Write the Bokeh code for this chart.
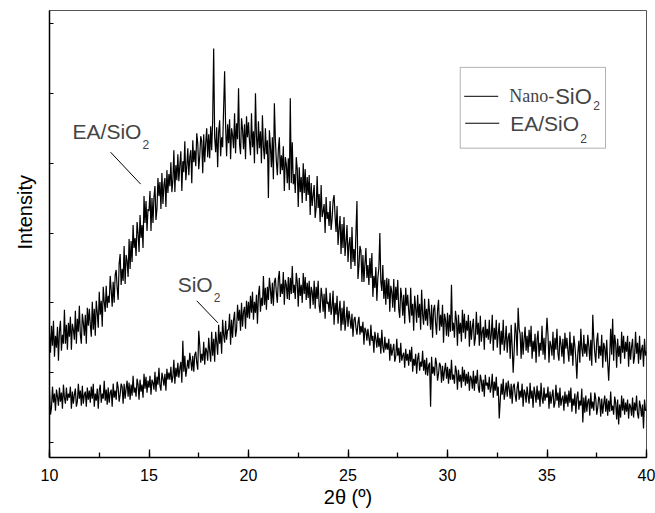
from bokeh.plotting import figure
from bokeh.models import (Label, Arrow, BoxAnnotation, SingleIntervalTicker, FixedTicker,
                          Range1d, Title, CustomJSTickFormatter)
from bokeh.embed import file_html
from bokeh.resources import INLINE

# 2-theta grid (degrees), 10.00 .. 40.00 step 0.05
two_theta = [round(10 + 0.05 * i, 2) for i in range(601)]

# EA/SiO2 (upper trace), arbitrary intensity units, one row per degree
ea_sio2 = [
    110, 90, 117, 97, 122, 86, 107, 95, 116, 82, 112, 122, 92, 108, 99, 133, 99, 118, 93, 120,
    106, 126, 93, 119, 113, 103, 132, 99, 124, 111, 137, 108, 99, 129, 120, 107, 128, 99, 135, 117,
    134, 118, 106, 141, 113, 134, 107, 142, 130, 115, 151, 128, 142, 116, 156, 141, 131, 157, 135, 147,
    140, 167, 153, 136, 161, 140, 168, 173, 155, 143, 179, 189, 158, 174, 162, 197, 159, 188, 182, 166,
    204, 174, 202, 181, 218, 195, 205, 187, 221, 210, 191, 228, 205, 218, 195, 247, 220, 242, 212, 234,
    232, 252, 212, 245, 220, 246, 257, 223, 234, 265, 247, 261, 234, 270, 239, 258, 265, 236, 273, 250,
    269, 257, 281, 251, 263, 293, 251, 278, 263, 289, 262, 278, 292, 252, 282, 271, 302, 263, 277, 295,
    268, 286, 293, 260, 303, 281, 293, 277, 310, 300, 274, 287, 307, 302, 270, 309, 281, 300, 315, 286,
    309, 285, 317, 293, 323, 395, 306, 291, 316, 276, 311, 323, 287, 306, 296, 335, 372, 317, 287, 319,
    300, 324, 284, 315, 308, 295, 330, 290, 320, 304, 355, 299, 289, 325, 314, 294, 319, 284, 327, 306,
    321, 302, 288, 330, 296, 312, 280, 350, 307, 289, 322, 295, 312, 280, 328, 296, 284, 315, 289, 303,
    245, 313, 297, 276, 306, 264, 340, 304, 282, 268, 294, 306, 269, 288, 273, 297, 252, 286, 279, 260,
    285, 253, 345, 260, 301, 259, 269, 250, 286, 274, 236, 276, 251, 266, 240, 280, 250, 274, 242, 266,
    248, 268, 228, 260, 237, 248, 258, 225, 235, 267, 235, 249, 221, 258, 226, 232, 239, 210, 246, 224,
    231, 217, 242, 213, 224, 242, 248, 227, 211, 237, 198, 214, 227, 189, 219, 195, 226, 187, 201, 218,
    181, 199, 206, 174, 216, 181, 194, 177, 211, 242, 164, 177, 197, 192, 161, 188, 161, 179, 195, 165,
    178, 158, 185, 165, 190, 146, 167, 155, 176, 142, 165, 175, 210, 161, 152, 178, 144, 163, 138, 165,
    144, 164, 131, 157, 151, 135, 164, 131, 156, 143, 163, 134, 125, 155, 146, 127, 148, 119, 155, 137,
    148, 132, 120, 155, 127, 139, 112, 147, 135, 120, 148, 125, 139, 113, 153, 128, 118, 144, 122, 134,
    117, 144, 130, 113, 138, 105, 133, 138, 120, 108, 133, 143, 112, 128, 116, 138, 100, 129, 123, 107,
    130, 106, 128, 111, 158, 112, 120, 105, 132, 123, 97, 128, 109, 120, 101, 133, 110, 129, 104, 122,
    112, 128, 96, 122, 103, 116, 124, 97, 105, 131, 108, 120, 97, 127, 101, 111, 116, 93, 123, 105,
    114, 103, 123, 99, 108, 128, 92, 115, 103, 123, 95, 109, 120, 88, 112, 98, 123, 92, 102, 117,
    90, 105, 110, 84, 118, 96, 70, 92, 120, 111, 87, 135, 114, 109, 84, 111, 88, 104, 116, 92,
    107, 90, 113, 96, 117, 84, 102, 91, 109, 80, 103, 112, 86, 100, 92, 117, 88, 105, 83, 106,
    125, 108, 80, 102, 97, 87, 111, 83, 105, 93, 114, 89, 82, 107, 99, 86, 104, 79, 110, 94,
    105, 92, 81, 111, 87, 100, 77, 107, 97, 84, 64, 90, 102, 80, 114, 94, 86, 108, 89, 99,
    86, 108, 97, 82, 103, 77, 128, 105, 90, 80, 102, 110, 84, 97, 87, 108, 75, 100, 95, 81,
    103, 80, 62, 86, 114, 88, 124, 82, 108, 99, 75, 104, 86, 97, 79, 111, 90, 107, 84, 101,
    91, 107, 76, 101, 83, 96, 104, 79, 86, 111, 89, 100, 79, 107, 83, 93, 98, 76, 104, 87,
    91,
]

# Nano-SiO2 (lower trace)
nano_sio2 = [
    52, 28, 35, 56, 40, 49, 32, 53, 46, 37, 55, 41, 50, 34, 58, 45, 39, 55, 42, 49,
    45, 56, 34, 51, 39, 48, 54, 36, 41, 59, 44, 52, 37, 57, 39, 48, 51, 36, 55, 43,
    52, 40, 56, 44, 59, 36, 49, 42, 54, 34, 52, 58, 40, 49, 44, 62, 42, 53, 38, 55,
    40, 50, 53, 36, 59, 45, 52, 43, 61, 55, 41, 48, 59, 56, 39, 59, 44, 54, 62, 46,
    60, 43, 58, 47, 67, 50, 55, 46, 64, 58, 43, 63, 51, 58, 45, 69, 54, 66, 50, 62,
    55, 67, 48, 63, 60, 53, 71, 51, 66, 58, 75, 57, 52, 70, 64, 57, 69, 52, 74, 63,
    70, 63, 76, 60, 66, 83, 59, 75, 66, 80, 65, 74, 81, 60, 102, 71, 87, 66, 74, 83,
    74, 90, 82, 72, 87, 71, 88, 91, 80, 73, 112, 98, 80, 89, 82, 101, 78, 95, 92, 82,
    105, 92, 81, 111, 87, 104, 81, 111, 101, 88, 118, 99, 111, 89, 123, 108, 100, 122, 103, 113,
    113, 129, 98, 123, 105, 123, 131, 106, 113, 138, 122, 133, 112, 140, 116, 131, 136, 114, 142, 125,
    141, 124, 147, 130, 151, 123, 141, 130, 148, 119, 148, 157, 131, 145, 137, 167, 138, 155, 133, 156,
    143, 165, 154, 139, 160, 137, 161, 165, 150, 140, 164, 172, 146, 159, 149, 171, 138, 163, 158, 144,
    166, 143, 165, 149, 177, 150, 158, 144, 170, 161, 136, 165, 147, 158, 140, 170, 149, 166, 143, 160,
    145, 162, 134, 156, 151, 138, 162, 134, 156, 144, 162, 137, 130, 155, 147, 131, 149, 124, 155, 139,
    141, 131, 150, 128, 136, 152, 118, 140, 128, 147, 119, 132, 142, 112, 135, 118, 142, 112, 123, 136,
    116, 132, 124, 114, 129, 106, 123, 126, 115, 108, 120, 126, 108, 117, 110, 121, 98, 115, 112, 102,
    114, 105, 97, 118, 102, 107, 90, 111, 104, 95, 110, 96, 105, 89, 113, 96, 90, 106, 93, 100,
    93, 104, 82, 99, 87, 93, 99, 81, 86, 104, 87, 95, 80, 100, 82, 87, 90, 75, 94, 82,
    89, 77, 93, 81, 96, 71, 84, 77, 89, 69, 84, 90, 72, 81, 76, 92, 72, 83, 68, 85,
    67, 77, 80, 36, 86, 69, 76, 67, 85, 79, 62, 69, 80, 77, 60, 77, 62, 72, 80, 64,
    76, 59, 74, 63, 83, 63, 68, 59, 77, 71, 53, 73, 61, 68, 55, 76, 61, 73, 57, 69,
    59, 71, 52, 67, 64, 54, 72, 52, 67, 59, 73, 55, 50, 68, 62, 51, 63, 46, 68, 57,
    60, 53, 66, 50, 56, 69, 45, 61, 52, 66, 47, 56, 24, 42, 59, 48, 64, 43, 51, 60,
    46, 62, 54, 44, 59, 39, 56, 59, 48, 41, 55, 61, 43, 52, 45, 59, 36, 53, 50, 40,
    56, 47, 39, 60, 44, 52, 35, 56, 49, 40, 57, 43, 52, 36, 60, 45, 39, 55, 42, 49,
    45, 56, 34, 51, 39, 47, 53, 35, 40, 58, 42, 50, 35, 55, 37, 44, 47, 32, 51, 39,
    48, 36, 52, 40, 55, 31, 44, 37, 49, 29, 45, 51, 33, 42, 37, 54, 20, 45, 30, 47,
    31, 41, 44, 27, 50, 34, 41, 32, 50, 44, 28, 35, 46, 43, 26, 44, 29, 39, 47, 31,
    44, 27, 42, 31, 51, 32, 37, 28, 46, 40, 23, 43, 18, 38, 25, 47, 32, 44, 28, 40,
    31, 43, 24, 39, 36, 27, 45, 25, 40, 32, 47, 29, 24, 42, 36, 26, 38, 14, 43, 32,
    33,
]

x_tick_interval = 5
y_tick_values = [0, 70, 140, 210, 280, 350, 420]

SANS = "Liberation Sans"
SERIF = "Liberation Serif"

p = figure(width=655, height=512, output_backend="svg", toolbar_location=None,
           x_range=Range1d(10, 40), y_range=Range1d(-15, 433),
           min_border_left=49, min_border_right=9, min_border_top=10, min_border_bottom=55)

p.line(two_theta, ea_sio2, line_color="black", line_width=1.2)
p.line(two_theta, nano_sio2, line_color="black", line_width=1.2)

p.xgrid.visible = False
p.ygrid.visible = False
p.outline_line_color = "#555555"
p.outline_line_width = 1
p.background_fill_color = "white"
p.border_fill_color = "white"

xa = p.xaxis[0]
xa.ticker = SingleIntervalTicker(interval=x_tick_interval, num_minor_ticks=2)
xa.axis_line_width = 1.5
xa.axis_line_color = "black"
xa.major_tick_in = 8
xa.major_tick_out = 0
xa.minor_tick_in = 5
xa.minor_tick_out = 0
xa.major_tick_line_width = 1.3
xa.minor_tick_line_width = 1.3
xa.major_label_text_font = SANS
xa.major_label_text_font_size = "16px"
xa.major_label_text_color = "black"
xa.major_label_standoff = 11
xa.axis_label = "2θ (º)"
xa.axis_label_text_font = SANS
xa.axis_label_text_font_size = "20px"
xa.axis_label_text_font_style = "normal"
xa.axis_label_text_color = "black"
xa.axis_label_standoff = 2

ya = p.yaxis[0]
ya.ticker = FixedTicker(ticks=y_tick_values)
ya.formatter = CustomJSTickFormatter(code="return ''")
ya.axis_line_width = 1.5
ya.axis_line_color = "black"
ya.major_tick_in = 4
ya.major_tick_out = 0
ya.minor_tick_in = 0
ya.minor_tick_out = 0
ya.major_label_standoff = 0

p.add_layout(Title(text="Intensity", align="left", offset=208, standoff=24, vertical_align="top",
                   text_font=SANS, text_font_size="20px", text_font_style="normal",
                   text_color="black"), "left")

# in-plot annotations (subscripts placed with pixel offsets from the same anchor)
p.add_layout(Label(x=11.16, y=311.5, text="EA/SiO", text_font=SANS, text_font_size="21px",
                   text_baseline="middle"))
p.add_layout(Label(x=11.16, y=299, x_offset=70, text="2", text_font=SANS, text_font_size="12px",
                   text_baseline="middle"))
p.add_layout(Arrow(end=None, x_start=13.07, y_start=291, x_end=14.58, y_end=259,
                   line_width=1, line_color="black"))

p.add_layout(Label(x=16.44, y=158.5, text="SiO", text_font=SANS, text_font_size="21px",
                   text_baseline="middle"))
p.add_layout(Label(x=16.44, y=145.5, x_offset=36, text="2", text_font=SANS, text_font_size="12px",
                   text_baseline="middle"))
p.add_layout(Arrow(end=None, x_start=17.40, y_start=142, x_end=18.46, y_end=120,
                   line_width=1, line_color="black"))

# legend box
p.add_layout(BoxAnnotation(left=30.64, right=37.94, top=376, bottom=295,
                           fill_color="white", fill_alpha=1, line_color="black", line_width=1))
p.add_layout(Arrow(end=None, x_start=30.84, y_start=347, x_end=32.55, y_end=347,
                   line_width=1, line_color="black"))
p.add_layout(Arrow(end=None, x_start=30.89, y_start=320, x_end=32.60, y_end=320,
                   line_width=1, line_color="black"))
p.add_layout(Label(x=33.10, y=347, text="Nano-", text_font=SERIF, text_font_size="18px",
                   text_baseline="middle"))
p.add_layout(Label(x=33.10, y=347, x_offset=46, text="SiO", text_font=SANS, text_font_size="22px",
                   text_baseline="middle"))
p.add_layout(Label(x=33.10, y=338, x_offset=84, text="2", text_font=SANS, text_font_size="12px",
                   text_baseline="middle"))
p.add_layout(Label(x=33.15, y=320, text="EA/SiO", text_font=SANS, text_font_size="21px",
                   text_baseline="middle"))
p.add_layout(Label(x=33.15, y=305, x_offset=70, text="2", text_font=SANS, text_font_size="12px",
                   text_baseline="middle"))

open("out.html", "w").write(file_html(p, INLINE))
